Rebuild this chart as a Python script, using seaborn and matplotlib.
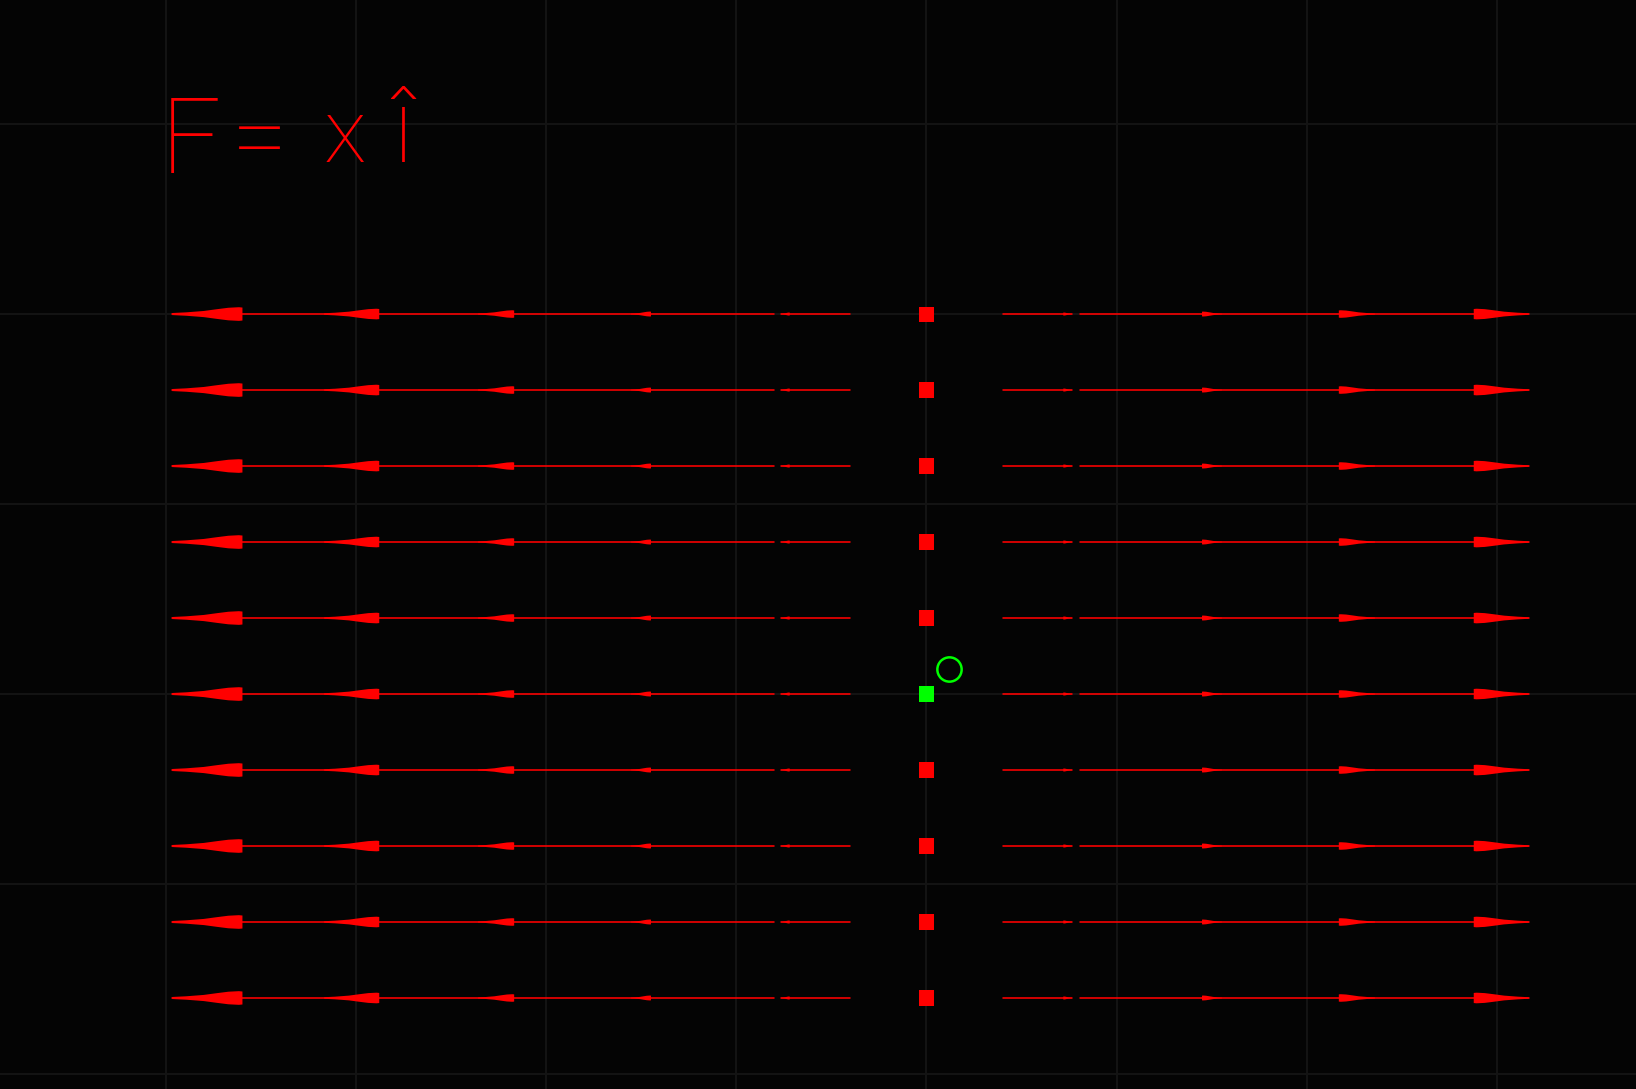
import numpy as np
import pandas as pd
import matplotlib
matplotlib.use("Agg")
import matplotlib.pyplot as plt
import seaborn as sns

# field F = x i : rows of arrows, heads grow with |x|
row_y = [2.0, 1.6, 1.2, 0.8, 0.4, 0.0, -0.4, -0.8, -1.2, -1.6]
head_base = [-3.60, -2.88, -2.17, -1.45, -0.72, 0.72, 1.45, 2.17, 2.88]
head_tip = [-3.97, -3.17, -2.36, -1.555, -0.766, 0.766, 1.555, 2.36, 3.17]
head_halfw = [0.036, 0.028, 0.020, 0.013, 0.008, 0.008, 0.013, 0.020, 0.028]
shaft_start = [-0.40, -0.805, 0.40, 0.807]
shaft_end = [-0.766, -3.97, 0.766, 3.17]
origin_x = 0.0
origin_y = 0.0
probe_x = [0.12]
probe_y = [0.13]

BG = "#040404"
GRID = "#141414"
RED = "#ff0000"
GREEN = "#00ff00"

sns.set_theme(style="dark", rc={"axes.facecolor": BG, "figure.facecolor": BG})

fig = plt.figure(figsize=(16.36, 10.89), dpi=100)
ax = fig.add_axes([0, 0, 1, 1])

# shafts
segs = []
for y in row_y:
    for i, (a, b) in enumerate(zip(shaft_start, shaft_end)):
        segs.append({"x": a, "y": y, "seg": f"{y}_{i}"})
        segs.append({"x": b, "y": y, "seg": f"{y}_{i}"})
seg_df = pd.DataFrame(segs)
sns.lineplot(data=seg_df, x="x", y="y", units="seg", estimator=None,
             color=RED, linewidth=1.15, sort=False, ax=ax, legend=False)

# arrow heads, tapered like a pen stroke
prof_t = np.array([0.0, 0.2, 0.45, 0.63, 0.8, 0.95, 1.0])
prof_w = np.array([0.15, 0.25, 0.45, 0.7, 0.92, 1.0, 0.95])
for y in row_y:
    for xb, xt, hw in zip(head_base, head_tip, head_halfw):
        xs = xt + (xb - xt) * prof_t
        top = y + hw * prof_w
        bot = y - hw * prof_w
        ax.fill(np.r_[xs, xs[::-1]], np.r_[top, bot[::-1]], color=RED, lw=0)

# squares on the y axis
sq = pd.DataFrame({"x": [origin_x] * len(row_y), "y": row_y})
sq["kind"] = np.where(np.isclose(sq["y"], origin_y), "origin", "axis")
sns.scatterplot(data=sq, x="x", y="y", hue="kind",
                palette={"origin": GREEN, "axis": RED}, marker="s",
                s=118, linewidth=0, ax=ax, legend=False, zorder=4)

ax.plot(probe_x, probe_y, marker="o", ms=17.5, mfc="none", mec=GREEN,
        mew=1.8, ls="none", zorder=5)

# handwritten label
lab = dict(color=RED, family=["Roboto", "DejaVu Sans"],
           fontweight=100, va="baseline")
ax.text(-4.03, 2.74, "F", ha="left", fontsize=76, **lab)
ax.text(-3.51, 2.76, "=", ha="center", fontsize=72, **lab)
ax.text(-3.06, 2.80, "x", ha="center", fontsize=64, **lab)
ax.text(-2.76, 2.80, "î", ha="center", fontsize=74, **lab)

ax.set_xlim(-4.876, 3.734)
ax.set_ylim(-2.079, 3.653)
ax.set_xticks(range(-4, 4))
ax.set_yticks(range(-2, 4))
ax.grid(True, color=GRID, linewidth=1.4)
ax.set_axisbelow(True)
ax.tick_params(length=0, labelbottom=False, labelleft=False)
ax.set_xlabel("")
ax.set_ylabel("")
for s in ax.spines.values():
    s.set_visible(False)

fig.savefig("out.png", dpi=100, facecolor=BG)
